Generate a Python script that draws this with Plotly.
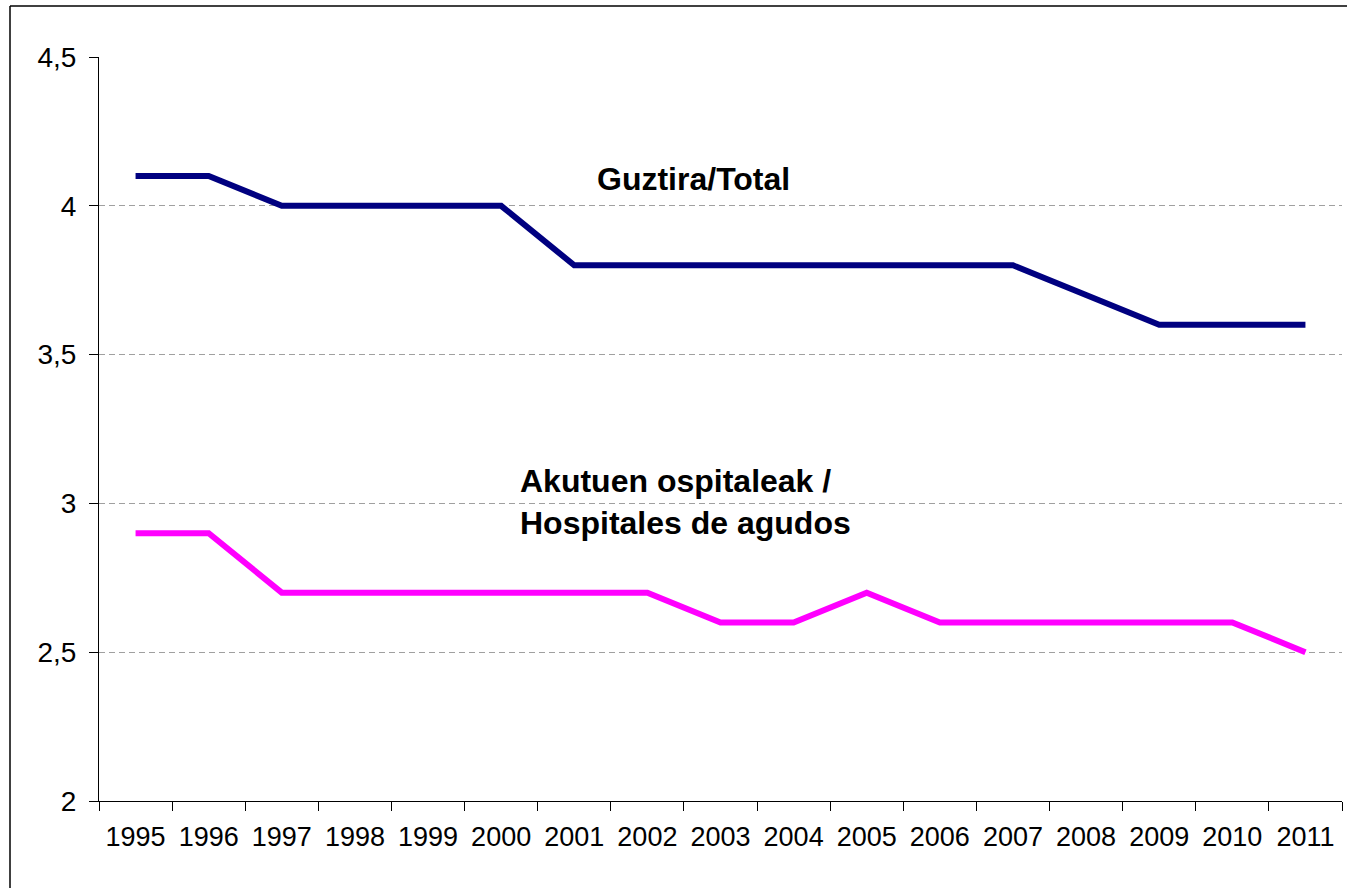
import plotly.graph_objects as go

years = ["1995", "1996", "1997", "1998", "1999", "2000", "2001", "2002", "2003",
         "2004", "2005", "2006", "2007", "2008", "2009", "2010", "2011"]
total = [4.1, 4.1, 4.0, 4.0, 4.0, 4.0, 3.8, 3.8, 3.8, 3.8, 3.8, 3.8, 3.8, 3.7, 3.6, 3.6, 3.6]
acute = [2.9, 2.9, 2.7, 2.7, 2.7, 2.7, 2.7, 2.7, 2.6, 2.6, 2.7, 2.6, 2.6, 2.6, 2.6, 2.6, 2.5]
ytick_vals = [2, 2.5, 3, 3.5, 4, 4.5]
ytick_text = ["2", "2,5", "3", "3,5", "4", "4,5"]

fig = go.Figure()
fig.add_trace(go.Scatter(x=years, y=total, mode="lines", name="Guztira/Total",
                         line=dict(color="#000080", width=6)))
fig.add_trace(go.Scatter(x=years, y=acute, mode="lines", name="Akutuen ospitaleak / Hospitales de agudos",
                         line=dict(color="#FF00FF", width=6)))

fig.update_layout(
    width=1347, height=888,
    margin=dict(l=99, r=5, t=57, b=87),
    paper_bgcolor="white", plot_bgcolor="white",
    showlegend=False,
    font=dict(family="Arial, Liberation Sans, sans-serif", size=27, color="black"),
    xaxis=dict(type="category", range=[-0.5, 16.5], tickson="boundaries",
               ticks="outside", ticklen=9, tickcolor="black", showgrid=False,
               showline=True, linecolor="black", linewidth=1,
               ticklabelstandoff=12, tickfont=dict(size=27)),
    yaxis=dict(range=[2, 4.5], tickvals=ytick_vals, ticktext=ytick_text,
               ticks="outside", ticklen=9, tickcolor="black",
               showline=True, linecolor="black", linewidth=1,
               showgrid=True, gridcolor="#A0A0A0", griddash="6px,4px", gridwidth=1,
               zeroline=False, ticklabelstandoff=7, tickfont=dict(size=28)),
    annotations=[
        dict(text="<b>Guztira/Total</b>", xref="paper", yref="paper",
             x=0.478, y=0.836, xanchor="center", yanchor="middle",
             showarrow=False, font=dict(size=32)),
        dict(text="<b>Akutuen ospitaleak /<br>Hospitales de agudos</b>", xref="paper", yref="paper",
             x=0.3367, y=0.4024, xanchor="left", yanchor="middle", align="left",
             showarrow=False, font=dict(size=32)),
    ],
    shapes=[
        dict(type="line", xref="paper", yref="paper",
             x0=-0.0716, x1=-0.0716, y0=-0.2, y1=1.0686,
             line=dict(color="black", width=1.5)),
        dict(type="line", xref="paper", yref="paper",
             x0=-0.0716, x1=1.2, y0=1.0686, y1=1.0686,
             line=dict(color="black", width=1.5)),
    ],
)

fig.write_html("out.html", config={"displayModeBar": False},
               post_script="document.body.style.margin='0';document.body.style.overflow='hidden';")
